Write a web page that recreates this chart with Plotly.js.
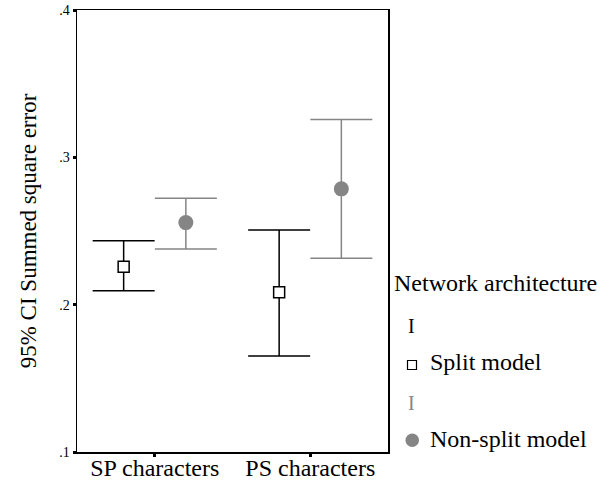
<!DOCTYPE html>
<html>
<head>
<meta charset="utf-8">
<script src="https://cdn.plot.ly/plotly-3.0.1.min.js"></script>
<style>html,body{margin:0;padding:0;background:#fff;}#chart{width:615px;height:482px;}</style>
</head>
<body>
<div id="chart"></div>
<script>
const categories = ["SP characters", "PS characters"];
const splitMean = [0.2258, 0.2084];
const splitUpper = [0.2434, 0.2507];
const splitLower = [0.2095, 0.1652];
const nonSplitMean = [0.2557, 0.2786];
const nonSplitUpper = [0.2722, 0.3256];
const nonSplitLower = [0.2378, 0.2315];
const yTickVals = [0.1, 0.2, 0.3, 0.4];
const yTickText = [".1", ".2", ".3", ".4"];

const FONT = '"Liberation Serif", "Times New Roman", serif';
const GREY = "#858585";
const idx = categories.map((c, i) => i);
const off = 0.2;

const traces = [
  {
    type: "scatter", mode: "markers",
    x: idx.map(i => i - off), y: splitMean,
    marker: {symbol: "square", size: 11, color: "#fff", line: {color: "#000", width: 1.5}},
    error_y: {type: "data", symmetric: false,
      array: splitUpper.map((u, i) => u - splitMean[i]),
      arrayminus: splitMean.map((m, i) => m - splitLower[i]),
      color: "#000", thickness: 1.5, width: 31},
    showlegend: false, hoverinfo: "skip"
  },
  {
    type: "scatter", mode: "markers",
    x: idx.map(i => i + off), y: nonSplitMean,
    marker: {symbol: "circle", size: 15, color: GREY, line: {width: 0}},
    error_y: {type: "data", symmetric: false,
      array: nonSplitUpper.map((u, i) => u - nonSplitMean[i]),
      arrayminus: nonSplitMean.map((m, i) => m - nonSplitLower[i]),
      color: GREY, thickness: 1.5, width: 31},
    showlegend: false, hoverinfo: "skip"
  }
];

const W = 615, H = 482;
const L = 77, R = 388, T = 10, B = 452;
const px = x => (x - L) / (R - L), py = y => (B - y) / (B - T);

const layout = {
  width: W, height: H,
  margin: {l: L, r: W - R, t: T, b: H - B},
  paper_bgcolor: "#fff", plot_bgcolor: "#fff",
  font: {family: FONT, color: "#000", size: 24},
  showlegend: false,
  xaxis: {
    range: [-0.5, 1.5], tickvals: idx, ticktext: categories,
    ticks: "outside", ticklen: 3, tickwidth: 3, tickcolor: "#000",
    ticklabelstandoff: -9,
    showline: true, mirror: true, linecolor: "#000", linewidth: 1.5,
    showgrid: false, zeroline: false,
    tickfont: {family: FONT, size: 24, color: "#000"}
  },
  yaxis: {
    range: [0.1, 0.4], tickvals: yTickVals, ticktext: yTickText,
    ticks: "outside", ticklen: 3, tickwidth: 3, tickcolor: "#000",
    showline: true, mirror: true, linecolor: "#000", linewidth: 1.5,
    showgrid: false, zeroline: false,
    tickfont: {family: FONT, size: 14, color: "#000"},
    title: {text: "95% CI Summed square error", font: {family: FONT, size: 23, color: "#000"}, standoff: 16}
  },
  annotations: [
    {xref: "paper", yref: "paper", x: px(392), y: py(283), xanchor: "left", yanchor: "middle",
     text: "Network architecture", showarrow: false, font: {family: FONT, size: 24, color: "#000"}},
    {xref: "paper", yref: "paper", x: px(412), y: py(326), xanchor: "center", yanchor: "middle",
     text: "I", showarrow: false, font: {family: FONT, size: 20, color: "#000"}},
    {xref: "paper", yref: "paper", x: px(428), y: py(362), xanchor: "left", yanchor: "middle",
     text: "Split model", showarrow: false, font: {family: FONT, size: 24, color: "#000"}},
    {xref: "paper", yref: "paper", x: px(412), y: py(403), xanchor: "center", yanchor: "middle",
     text: "I", showarrow: false, font: {family: FONT, size: 20, color: GREY}},
    {xref: "paper", yref: "paper", x: px(428), y: py(439), xanchor: "left", yanchor: "middle",
     text: "Non-split model", showarrow: false, font: {family: FONT, size: 24, color: "#000"}}
  ],
  shapes: [
    {type: "rect", xref: "paper", yref: "paper", x0: px(407.5), x1: px(416.5), y0: py(369.5), y1: py(360.5),
     line: {color: "#000", width: 1.2}, fillcolor: "#fff"},
    {type: "circle", xref: "paper", yref: "paper", x0: px(405.5), x1: px(419), y0: py(447), y1: py(433.5),
     line: {width: 0}, fillcolor: GREY}
  ]
};

Plotly.newPlot("chart", traces, layout, {staticPlot: true, displayModeBar: false});
</script>
</body>
</html>
